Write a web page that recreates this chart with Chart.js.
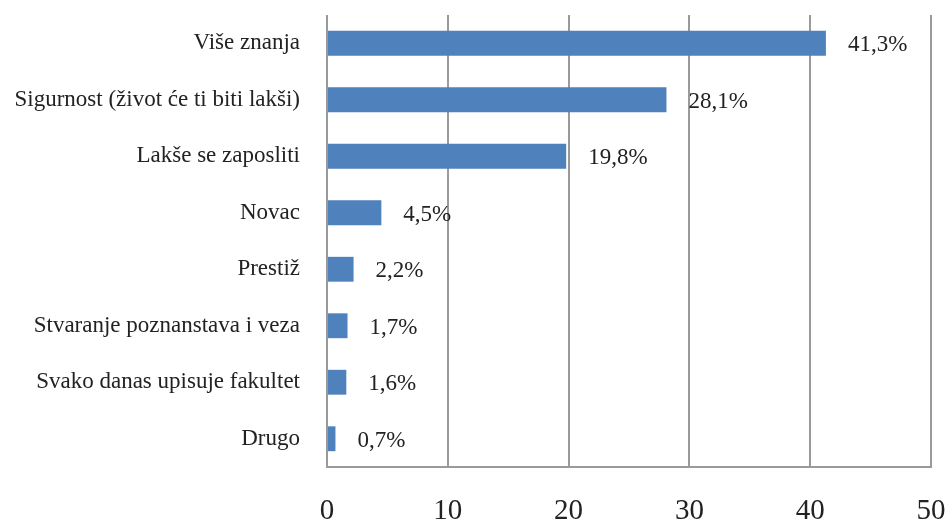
<!DOCTYPE html>
<html>
<head>
<meta charset="utf-8">
<script src="https://cdn.jsdelivr.net/npm/chart.js@4/dist/chart.umd.min.js"></script>
<style>
  html, body { margin: 0; padding: 0; background: #fff; }
  #wrap { width: 947px; height: 520px; }
</style>
</head>
<body>
<div id="wrap"><canvas id="chart" width="947" height="520"></canvas></div>
<script>
const categories = [
  'Više znanja',
  'Sigurnost (život će ti biti lakši)',
  'Lakše se zaposliti',
  'Novac',
  'Prestiž',
  'Stvaranje poznanstava i veza',
  'Svako danas upisuje fakultet',
  'Drugo'
];
const values = [41.3, 28.1, 19.8, 4.5, 2.2, 1.7, 1.6, 0.7];
const xTicks = [0, 10, 20, 30, 40, 50];

const serif = "'Liberation Serif', 'DejaVu Serif', serif";
const gridGrey = '#9a9a9a';
const barBlue = '#4F81BD';

// value labels to the right of each bar
const valueLabels = {
  id: 'valueLabels',
  afterDatasetsDraw(chart) {
    const ctx = chart.ctx;
    const meta = chart.getDatasetMeta(0);
    ctx.save();
    ctx.font = '23px ' + serif;
    ctx.fillStyle = '#222';
    ctx.textAlign = 'left';
    ctx.textBaseline = 'middle';
    meta.data.forEach((bar, i) => {
      const txt = values[i].toFixed(1).replace('.', ',') + '%';
      ctx.fillText(txt, bar.x + 22, bar.y + 2);
    });
    ctx.restore();
  }
};

new Chart(document.getElementById('chart'), {
  type: 'bar',
  data: {
    labels: categories,
    datasets: [{
      data: values,
      backgroundColor: barBlue,
      borderWidth: 0,
      categoryPercentage: 1,
      barPercentage: 0.44
    }]
  },
  plugins: [valueLabels],
  options: {
    indexAxis: 'y',
    responsive: false,
    animation: false,
    layout: { padding: { top: 15, right: 16, left: 0, bottom: 0 } },
    plugins: { legend: { display: false }, tooltip: { enabled: false } },
    scales: {
      x: {
        min: 0,
        max: 50,
        afterBuildTicks: s => { s.ticks = xTicks.map(v => ({ value: v })); },
        afterFit: s => { s.height = 53; s.paddingLeft = 0; s.paddingRight = 0; },
        grid: { color: gridGrey, lineWidth: 2, drawTicks: false },
        border: { display: true, color: gridGrey, width: 2 },
        ticks: {
          padding: 27,
          color: '#222',
          font: { family: serif, size: 29 }
        }
      },
      y: {
        afterFit: s => { s.width = 327; s.paddingTop = 0; s.paddingBottom = 0; },
        grid: { display: false, drawTicks: false },
        border: { display: false },
        ticks: {
          padding: 27,
          color: '#222',
          font: { family: serif, size: 23 }
        }
      }
    }
  }
});
</script>
</body>
</html>
